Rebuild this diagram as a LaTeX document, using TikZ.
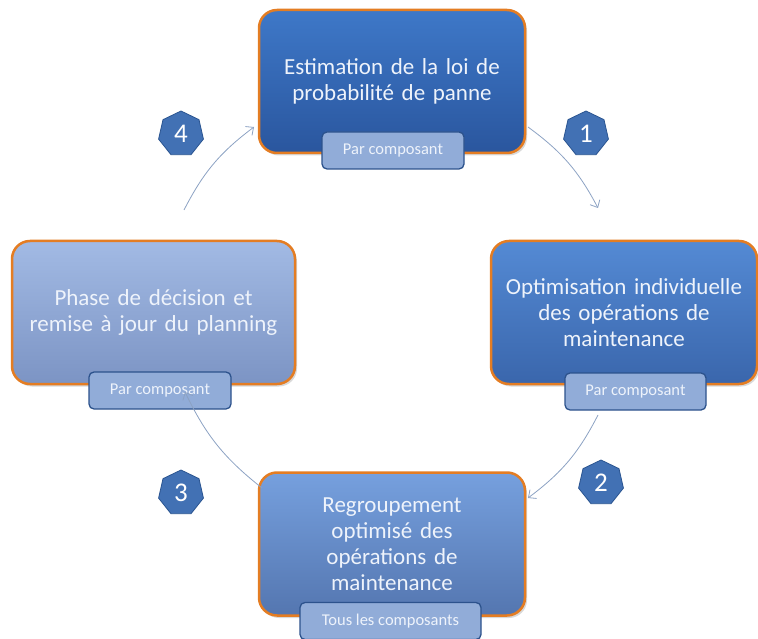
\documentclass[tikz,border=0pt]{standalone}
\usepackage{fontspec}
\setmainfont{Carlito}
\usetikzlibrary{arrows.meta,shapes.geometric,shadows}
\definecolor{orangeB}{RGB}{228,125,35}
\definecolor{subfill}{RGB}{145,172,216}
\definecolor{subdraw}{RGB}{44,82,140}
\definecolor{hexfill}{RGB}{66,113,180}
\definecolor{hexdraw}{RGB}{43,85,145}
\definecolor{arrowc}{RGB}{140,162,195}
\definecolor{txt}{RGB}{238,243,251}
\definecolor{c1t}{RGB}{62,120,200}
\definecolor{c1b}{RGB}{42,86,158}
\definecolor{c2t}{RGB}{84,138,212}
\definecolor{c2b}{RGB}{58,102,172}
\definecolor{c3t}{RGB}{118,160,222}
\definecolor{c3b}{RGB}{84,118,176}
\definecolor{c4t}{RGB}{162,186,228}
\definecolor{c4b}{RGB}{124,148,196}
\begin{document}
\begin{tikzpicture}[x=1pt,y=1pt,
 mainbox/.style={rounded corners=18pt, draw=orangeB, line width=2.5pt,
   minimum width=266pt, minimum height=143pt, text width=264pt, align=center,
   text=txt, font=\fontsize{23}{26}\selectfont, inner sep=0pt,
   drop shadow={shadow xshift=2pt,shadow yshift=-2.5pt,opacity=0.3}},
 subbox/.style={rounded corners=5pt, draw=subdraw, line width=1.3pt, fill=subfill,
   minimum height=37pt, text=txt, font=\fontsize{16.5}{18}\selectfont, inner sep=0pt},
 hept/.style={regular polygon, regular polygon sides=7, minimum size=46pt,
   fill=hexfill, draw=hexdraw, line width=0.8pt, text=white,
   font=\fontsize{27}{27}\selectfont, inner sep=0pt},
 cyc/.style={draw=arrowc, line width=0.8pt, -{Straight Barb[length=6pt,width=11pt]}, bend left=13}
]
\useasboundingbox (0,0) rectangle (758,-639);
\clip (0,0) rectangle (758,-639);

% main boxes
\node[mainbox, top color=c1t, bottom color=c1b] (est) at (392,-81.5)
  {Estimation de la loi de\\probabilité de panne};
\node[mainbox, top color=c2t, bottom color=c2b] (opt) at (624,-312.5)
  {Optimisation individuelle\\des opérations de\\maintenance};
\node[mainbox, top color=c3t, bottom color=c3b] (reg) at (392,-544)
  {Regroupement\\optimisé des\\opérations de\\maintenance};
\node[mainbox, minimum width=283pt, top color=c4t, bottom color=c4b] (dec) at (153.5,-312.5)
  {Phase de décision et\\remise à jour du planning};

% sub boxes
\node[subbox, minimum width=142pt] (estS) at (393,-150.5) {Par composant};
\node[subbox, minimum width=141pt] (optS) at (635.5,-391.5) {Par composant};
\node[subbox, minimum width=142pt] (decS) at (160,-390.5) {Par composant};
\node[subbox, minimum width=181pt] (regS) at (390.5,-621) {Tous les composants};

% step numbers
\node[hept] (n1) at (586,-134) {1};
\node[hept] (n2) at (601,-483) {2};
\node[hept] (n3) at (181,-493) {3};
\node[hept] (n4) at (181,-134) {4};

% arrow ends
\coordinate (a1s) at (528,-127);
\coordinate (a1e) at (598,-208);
\coordinate (a2s) at (598,-415);
\coordinate (a2e) at (528,-498);
\coordinate (a3s) at (262,-488);
\coordinate (a3e) at (185,-392);
\coordinate (a4s) at (184,-210);
\coordinate (a4e) at (254,-127);

\draw[cyc] (a1s) to (a1e);
\draw[cyc] (a2s) to (a2e);
\draw[cyc] (a3s) to (a3e);
\draw[cyc] (a4s) to (a4e);
\end{tikzpicture}
\end{document}
